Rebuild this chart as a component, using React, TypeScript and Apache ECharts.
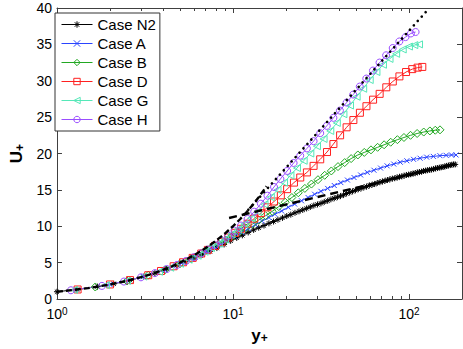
import React, { useEffect, useRef } from "react";
import * as echarts from "echarts";

const caseNames = ["Case N2", "Case A", "Case B", "Case D", "Case G", "Case H"];
const caseColors = ["#000000", "#2a44ff", "#22a822", "#ff2020", "#55e8b8", "#9a4dff"];

const caseN2 = [
  [1.0, 1.0], [1.3, 1.3], [1.7, 1.7], [2.1, 2.1], [2.6, 2.58], [3.1, 3.07], [3.6, 3.55], [4.2, 4.12],
  [4.8, 4.65], [5.4, 5.15], [6.0, 5.6], [6.7, 6.1], [7.4, 6.55], [8.1, 7.0], [8.9, 7.5], [9.7, 8.0],
  [10.5, 8.4], [11.3, 8.75], [12.2, 9.15], [13.1, 9.5], [14.0, 9.8], [15.0, 10.1], [16.0, 10.4],
  [17.0, 10.65], [18.0, 10.9], [19.1, 11.15], [20.2, 11.4], [21.3, 11.6], [22.5, 11.85], [23.7, 12.05],
  [24.9, 12.25], [26.2, 12.45], [27.5, 12.65], [28.8, 12.85], [30.2, 13.0], [31.6, 13.15], [33.0, 13.35],
  [34.5, 13.5], [36.0, 13.7], [37.6, 13.85], [39.2, 14.0], [40.8, 14.15], [42.5, 14.3], [44.2, 14.5],
  [46.0, 14.65], [47.8, 14.8], [49.6, 14.95], [51.5, 15.1], [53.4, 15.2], [55.4, 15.35], [57.4, 15.45],
  [59.5, 15.6], [61.6, 15.7], [63.8, 15.8], [66.0, 15.95], [68.3, 16.05], [70.6, 16.15], [73.0, 16.25],
  [75.4, 16.35], [77.9, 16.45], [80.4, 16.55], [83.0, 16.6], [85.6, 16.7], [88.3, 16.8], [91.0, 16.85],
  [93.8, 16.95], [96.6, 17.05], [99.5, 17.1], [102.4, 17.15], [105.4, 17.25], [108.4, 17.3], [111.5, 17.4],
  [114.6, 17.45], [117.8, 17.5], [121.0, 17.6], [124.3, 17.65], [127.6, 17.7], [131.0, 17.75], [134.4, 17.8],
  [137.9, 17.85], [141.4, 17.95], [145.0, 18.0], [148.6, 18.05], [152.3, 18.1], [156.0, 18.15], [159.8, 18.2],
  [163.6, 18.3], [167.4, 18.35], [171.3, 18.4], [175.2, 18.45], [179.1, 18.5], [183.0, 18.5],
];

const caseA = [
  [2.0, 2.0], [3.1, 3.07], [4.1, 4.0], [5.1, 4.9], [6.1, 5.75], [7.1, 6.55], [8.2, 7.35], [9.2, 8.0],
  [10.2, 8.6], [11.2, 9.15], [12.2, 9.65], [13.4, 10.2], [14.6, 10.7], [16.0, 11.2], [17.3, 11.65],
  [18.9, 12.1], [20.6, 12.6], [22.4, 13.05], [24.5, 13.5], [26.7, 13.95], [29.1, 14.4], [31.6, 14.8],
  [34.5, 15.2], [37.6, 15.6], [41.0, 16.0], [44.7, 16.35], [48.7, 16.7], [53.1, 17.05], [57.9, 17.4],
  [63.2, 17.7], [68.9, 18.0], [75.1, 18.3], [81.9, 18.55], [89.2, 18.8], [97.2, 19.0], [106.1, 19.2],
  [115.6, 19.35], [126.0, 19.5], [137.4, 19.6], [149.8, 19.7], [162.4, 19.75], [174.3, 19.8], [185.0, 19.8],
];

const caseB = [
  [1.65, 1.65], [2.5, 2.48], [3.3, 3.27], [4.1, 4.0], [5.0, 4.85], [5.8, 5.55], [6.6, 6.25], [7.4, 6.9],
  [8.3, 7.55], [9.1, 8.1], [9.9, 8.65], [10.9, 9.25], [11.8, 9.75], [12.9, 10.3], [14.0, 10.85],
  [15.3, 11.45], [16.7, 12.05], [18.2, 12.7], [19.8, 13.3], [21.6, 13.95], [23.5, 14.6], [25.6, 15.2],
  [27.9, 15.8], [30.4, 16.4], [33.2, 17.0], [36.2, 17.6], [39.5, 18.2], [43.1, 18.75], [46.9, 19.3],
  [51.2, 19.8], [55.7, 20.15], [60.8, 20.5], [66.3, 20.85], [72.2, 21.2], [78.7, 21.55], [85.9, 21.9],
  [93.6, 22.2], [102.0, 22.5], [111.2, 22.75], [121.2, 22.95], [131.4, 23.1], [141.0, 23.2], [150.0, 23.25],
];

const caseD = [
  [1.31, 1.31], [2.0, 2.0], [2.6, 2.6], [3.3, 3.27], [3.9, 3.85], [4.6, 4.5], [5.2, 5.05], [5.9, 5.65],
  [6.6, 6.25], [7.2, 6.75], [7.9, 7.3], [8.6, 7.85], [9.4, 8.45], [10.3, 9.1], [11.1, 9.65], [12.1, 10.35],
  [13.2, 11.05], [14.4, 11.8], [15.7, 12.6], [17.1, 13.4], [18.7, 14.25], [20.3, 15.1], [22.2, 16.0],
  [24.1, 16.7], [26.3, 17.4], [28.7, 18.3], [31.3, 19.2], [34.2, 20.2], [37.2, 21.3], [40.6, 22.5],
  [44.2, 23.6], [48.3, 24.6], [52.6, 25.6], [57.3, 26.5], [62.5, 27.4], [68.1, 28.2], [74.3, 29.1],
  [80.9, 29.9], [88.2, 30.6], [96.2, 31.2], [104.3, 31.6], [111.9, 31.8], [119.0, 31.9],
];

const caseG = [
  [1.25, 1.25], [1.9, 1.9], [2.5, 2.5], [3.1, 3.08], [3.8, 3.75], [4.4, 4.3], [5.0, 4.85], [5.6, 5.4],
  [6.3, 5.95], [6.9, 6.5], [7.5, 7.0], [8.3, 7.6], [9.0, 8.2], [9.8, 8.9], [10.7, 9.6], [11.6, 10.3],
  [12.7, 11.1], [13.8, 12.0], [15.1, 13.0], [16.4, 14.0], [17.9, 15.0], [19.5, 16.0], [21.2, 17.0],
  [23.1, 18.0], [25.2, 19.0], [27.5, 20.0], [30.0, 21.0], [32.7, 22.0], [35.7, 23.1], [38.9, 24.2],
  [42.4, 25.4], [46.2, 26.6], [50.4, 27.8], [54.9, 28.9], [59.8, 30.1], [65.3, 31.2], [71.1, 32.2],
  [77.5, 33.0], [84.5, 33.7], [92.1, 34.3], [99.9, 34.7], [107.2, 34.9], [114.0, 35.0],
];

const caseH = [
  [1.2, 1.2], [1.8, 1.8], [2.4, 2.4], [3.0, 2.98], [3.6, 3.56], [4.2, 4.12], [4.8, 4.68], [5.4, 5.22],
  [6.0, 5.75], [6.6, 6.27], [7.2, 6.8], [7.9, 7.4], [8.6, 8.0], [9.4, 8.7], [10.2, 9.4], [11.1, 10.1],
  [12.1, 11.0], [13.2, 12.0], [14.4, 13.1], [15.7, 14.2], [17.1, 15.4], [18.6, 16.5], [20.3, 17.6],
  [22.1, 18.7], [24.1, 19.7], [26.3, 20.7], [28.7, 21.7], [31.3, 22.8], [34.1, 23.8], [37.2, 24.9],
  [40.5, 25.9], [44.2, 27.0], [48.2, 28.1], [52.5, 29.2], [57.2, 30.3], [62.4, 31.4], [68.0, 32.5],
  [74.1, 33.5], [80.8, 34.5], [88.1, 35.4], [95.5, 36.0], [102.5, 36.5], [109.0, 36.7],
];

// reference laws
const viscousLaw = [
  [1, 1], [1.25, 1.25], [1.5, 1.5], [1.75, 1.75], [2, 2], [2.5, 2.5], [3, 3], [3.5, 3.5], [4, 4],
  [4.5, 4.5], [5, 5], [6, 6], [7, 7], [8, 8], [9, 9], [10, 10], [11, 11], [12, 12], [13, 13],
  [14, 14], [15, 15], [15.5, 15.5],
];
const logLaw = [[9.5, 11.13], [183, 18.52]];
const mdrLaw = [[11.6, 11.66], [130, 39.95]];

const xMajorTicks = [1, 10, 100];
const xMinorTicks = [2, 3, 4, 5, 6, 7, 8, 9, 20, 30, 40, 50, 60, 70, 80, 90, 200];

const caseData = [caseN2, caseA, caseB, caseD, caseG, caseH];
const caseSymbols = [
  "path://M5,0L5,10M0,5L10,5M1.5,1.5L8.5,8.5M1.5,8.5L8.5,1.5",
  "path://M0,0L10,10M0,10L10,0",
  "diamond",
  "rect",
  "path://M0,5L10,0L10,10Z",
  "circle",
];
const caseSymbolSizes = [6, 5, 8, 7, 7, 7];

const FONT = "Liberation Sans, Arial, Helvetica, sans-serif";
const AXIS_COLOR = "#404040";

export default function App() {
  const ref = useRef<HTMLDivElement>(null);
  useEffect(() => {
    if (!ref.current) return;
    const chart = echarts.init(ref.current, undefined, { renderer: "svg" });

    const dataSeries = caseNames.map((name, i) => ({
      name,
      type: "line",
      data: caseData[i],
      xAxisIndex: 0,
      yAxisIndex: 0,
      symbol: caseSymbols[i],
      symbolSize: caseSymbolSizes[i],
      showAllSymbol: true,
      lineStyle: { color: caseColors[i], width: 1 },
      itemStyle: { color: "rgba(0,0,0,0)", borderColor: caseColors[i], borderWidth: 1 },
      emphasis: { disabled: true },
      z: 2,
    }));

    const lawSeries = [
      {
        name: "viscous",
        type: "line",
        data: viscousLaw,
        symbol: "none",
        lineStyle: { color: "#000", width: 2.4, type: [6, 3] },
        z: 5,
      },
      {
        name: "loglaw",
        type: "line",
        data: logLaw,
        symbol: "none",
        lineStyle: { color: "#000", width: 2.4, type: [8, 5] },
        z: 5,
      },
      {
        name: "mdr",
        type: "line",
        data: mdrLaw,
        symbol: "none",
        lineStyle: { color: "#000", width: 2.6, type: [0.1, 5.8], cap: "round" },
        z: 5,
      },
    ];

    const xBase = {
      type: "log",
      logBase: 10,
      min: 1,
      max: 200,
      gridIndex: 0,
      splitLine: { show: false },
      minorSplitLine: { show: false },
    };

    const nameRich = {
      a: { fontSize: 17, fontWeight: "bold", fontFamily: FONT, color: "#000", lineHeight: 18 },
      b: { fontSize: 12, fontWeight: "bold", fontFamily: FONT, color: "#000", verticalAlign: "bottom", lineHeight: 6 },
    };

    chart.setOption({
      animation: false,
      backgroundColor: "#fff",
      grid: { left: 50, right: 1, top: 8, bottom: 46, containLabel: false },
      legend: {
        data: caseNames.map((name, i) => ({
          name,
          itemStyle: { color: "rgba(0,0,0,0)", borderColor: caseColors[i], borderWidth: 1 },
          lineStyle: { color: caseColors[i], width: 1 },
        })),
        orient: "vertical",
        left: 55,
        top: 13,
        padding: [4, 4, 4, 6],
        itemGap: 4,
        itemWidth: 31,
        itemHeight: 8,
        backgroundColor: "#fff",
        borderColor: "#333",
        borderWidth: 1,
        borderRadius: 0,
        textStyle: { fontSize: 15, fontFamily: FONT, color: "#000" },
        selectedMode: false,
      },
      xAxis: [
        {
          ...xBase,
          position: "bottom",
          axisLine: { show: true, lineStyle: { color: AXIS_COLOR, width: 1 } },
          axisTick: { show: true, inside: true, length: 5, customValues: xMajorTicks, lineStyle: { color: AXIS_COLOR } },
          axisLabel: {
            customValues: xMajorTicks,
            margin: 7,
            formatter: (v: number) => `{a|10}{b|${Math.round(Math.log10(v))}}`,
            rich: {
              a: { fontSize: 14, fontFamily: FONT, color: "#000", lineHeight: 15 },
              b: { fontSize: 10, fontFamily: FONT, color: "#000", verticalAlign: "top", lineHeight: 10 },
            },
          },
          name: "{a|y}{b|+}",
          nameLocation: "middle",
          nameGap: 27,
          nameTextStyle: { rich: nameRich },
        },
        {
          ...xBase,
          position: "bottom",
          axisLine: { show: false },
          axisTick: { show: true, inside: true, length: 3, customValues: xMinorTicks, lineStyle: { color: AXIS_COLOR } },
          axisLabel: { show: false },
        },
        {
          ...xBase,
          position: "top",
          axisLine: { show: true, lineStyle: { color: AXIS_COLOR, width: 1 } },
          axisTick: { show: true, inside: true, length: 5, customValues: xMajorTicks, lineStyle: { color: AXIS_COLOR } },
          axisLabel: { show: false },
        },
        {
          ...xBase,
          position: "top",
          axisLine: { show: false },
          axisTick: { show: true, inside: true, length: 3, customValues: xMinorTicks, lineStyle: { color: AXIS_COLOR } },
          axisLabel: { show: false },
        },
      ],
      yAxis: [
        {
          type: "value",
          min: 0,
          max: 40,
          interval: 5,
          position: "left",
          splitLine: { show: false },
          axisLine: { show: true, lineStyle: { color: AXIS_COLOR, width: 1 } },
          axisTick: { show: true, inside: true, length: 5, lineStyle: { color: AXIS_COLOR } },
          axisLabel: { fontSize: 14, fontFamily: FONT, color: "#000", margin: 5, lineHeight: 11 },
          name: "{a|U}{b|+}",
          nameLocation: "middle",
          nameGap: 29,
          nameTextStyle: { rich: nameRich },
        },
        {
          type: "value",
          min: 0,
          max: 40,
          interval: 5,
          position: "right",
          splitLine: { show: false },
          axisLine: { show: true, lineStyle: { color: AXIS_COLOR, width: 1 } },
          axisTick: { show: true, inside: true, length: 5, lineStyle: { color: AXIS_COLOR } },
          axisLabel: { show: false },
        },
      ],
      series: [...dataSeries, ...lawSeries],
    });
    return () => chart.dispose();
  }, []);
  return <div ref={ref} style={{ position: "fixed", left: 0, top: 0, width: 463, height: 349 }} />;
}
